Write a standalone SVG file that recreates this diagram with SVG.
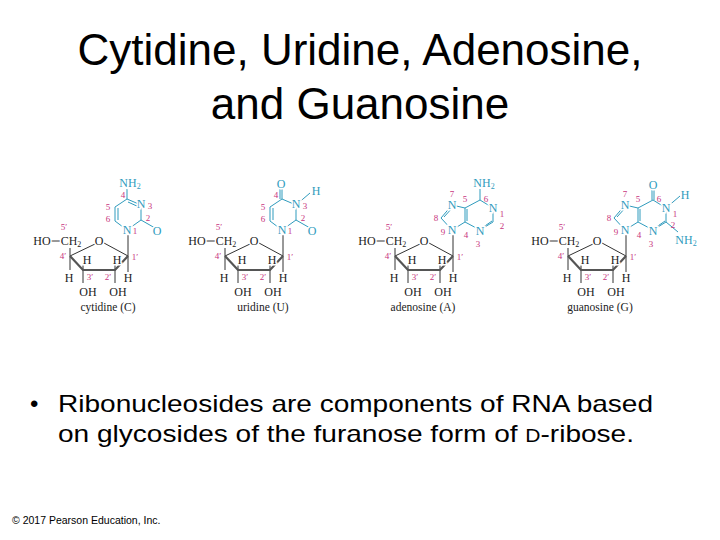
<svg xmlns="http://www.w3.org/2000/svg" xmlns:xlink="http://www.w3.org/1999/xlink" width="720" height="540" viewBox="0 0 720 540">
<style>
.t{font-family:"Liberation Sans",Arial,sans-serif;fill:#000}
.a{font-family:"Liberation Serif",serif;font-size:12px;fill:#222;stroke:#fff;stroke-width:3;paint-order:stroke;text-anchor:middle}
.b{font-family:"Liberation Serif",serif;font-size:12px;fill:#2f9bbd;stroke:#fff;stroke-width:3;paint-order:stroke;text-anchor:middle}
.n{font-family:"Liberation Serif",serif;font-size:9px;fill:#c8347e;text-anchor:middle}
.l{font-family:"Liberation Serif",serif;font-size:11.5px;fill:#222;text-anchor:middle}
.k{stroke:#333;stroke-width:1;fill:none}
.kb{stroke:#555;stroke-width:2.2;fill:none}
.c{stroke:#2f9bbd;stroke-width:1;fill:none}
</style>
<defs>
<g id="ribose">
<path class="k" d="M51 241H60M95 244L70 256M128 256L104 243M70 248V270M83 270V264M83 270V283M115 270V264M115 270V283M128 256V272M128 256V235"/>
<path class="kb" d="M70 256L83 270H115L128 256"/>
<text class="a" x="42" y="245">HO</text>
<text class="a" x="71" y="245">CH<tspan font-size="8" dy="2">2</tspan></text>
<text class="a" x="99" y="245">O</text>
<text class="a" x="87" y="264">H</text>
<text class="a" x="117" y="264">H</text>
<text class="a" x="69" y="282">H</text>
<text class="a" x="128" y="282">H</text>
<text class="a" x="88" y="296">OH</text>
<text class="a" x="118" y="296">OH</text>
<text class="n" x="64" y="230">5′</text>
<text class="n" x="63" y="259">4′</text>
<text class="n" x="90" y="280">3′</text>
<text class="n" x="108" y="280">2′</text>
<text class="n" x="135" y="260">1′</text>
</g>
</defs>
<text class="t" x="360" y="65" font-size="44" text-anchor="middle" textLength="565" lengthAdjust="spacingAndGlyphs">Cytidine, Uridine, Adenosine,</text>
<text class="t" x="360" y="119" font-size="44" text-anchor="middle">and Guanosine</text>

<g id="cytidine">
<use xlink:href="#ribose"/>
<path class="c" d="M127 230L115 221V207L127 199L141 205V220L127 230M118 220V208M128 202L139 207M141 220L155 228M127 199V189"/>
<text class="b" x="127" y="234">N</text>
<text class="b" x="141" y="208">N</text>
<text class="b" x="157" y="235">O</text>
<text class="b" x="130" y="187">NH<tspan font-size="8" dy="2">2</tspan></text>
<text class="n" x="135" y="234">1</text><text class="n" x="150" y="209">3</text><text class="n" x="148" y="221">2</text>
<text class="n" x="123" y="198">4</text><text class="n" x="108" y="210">5</text><text class="n" x="108" y="222">6</text>
<text class="l" x="108" y="311">cytidine (C)</text>
</g>

<g id="uridine" transform="translate(155,0)">
<use xlink:href="#ribose"/>
<path class="c" d="M127 230L115 221V207L127 199L141 205V220L127 230M118 220V208M141 220L155 228M127 199V189M125 199V189M141 205L155 193"/>
<text class="b" x="127" y="234">N</text>
<text class="b" x="141" y="208">N</text>
<text class="b" x="157" y="235">O</text>
<text class="b" x="126" y="188">O</text>
<text class="b" x="161" y="195">H</text>
<text class="n" x="135" y="234">1</text><text class="n" x="150" y="209">3</text><text class="n" x="148" y="221">2</text>
<text class="n" x="121" y="198">4</text><text class="n" x="108" y="210">5</text><text class="n" x="108" y="222">6</text>
<text class="l" x="108" y="311">uridine (U)</text>
</g>

<g id="adenosine" transform="translate(325,0)">
<use xlink:href="#ribose"/>
<path class="c" d="M127 230L116 218L127 205L140 208V222L127 230M119 217L128 207M140 208L155 200L168 208V222L155 230L140 222M142 209V221M167 221L157 228M155 200V189"/>
<text class="b" x="127" y="234">N</text>
<text class="b" x="127" y="209">N</text>
<text class="b" x="168" y="212">N</text>
<text class="b" x="155" y="235">N</text>
<text class="b" x="159" y="187">NH<tspan font-size="8" dy="2">2</tspan></text>
<text class="n" x="127" y="197">7</text><text class="n" x="111" y="221">8</text><text class="n" x="118" y="235">9</text>
<text class="n" x="141" y="238">4</text><text class="n" x="140" y="202">5</text><text class="n" x="161" y="202">6</text>
<text class="n" x="177" y="217">1</text><text class="n" x="177" y="229">2</text><text class="n" x="153" y="247">3</text>
<text class="l" x="98" y="311">adenosine (A)</text>
</g>

<g id="guanosine" transform="translate(498,0)">
<use xlink:href="#ribose"/>
<path class="c" d="M127 230L116 218L127 205L140 208V222L127 230M119 217L128 207M140 208L155 200L168 208V222L155 230L140 222M142 209V221M167 221L157 228M154 200V189M156 200V189M168 208L182 196M168 222L180 232"/>
<text class="b" x="127" y="234">N</text>
<text class="b" x="127" y="209">N</text>
<text class="b" x="168" y="212">N</text>
<text class="b" x="155" y="235">N</text>
<text class="b" x="155" y="189">O</text>
<text class="b" x="187" y="199">H</text>
<text class="b" x="188" y="244">NH<tspan font-size="8" dy="2">2</tspan></text>
<text class="n" x="127" y="197">7</text><text class="n" x="111" y="221">8</text><text class="n" x="118" y="235">9</text>
<text class="n" x="141" y="238">4</text><text class="n" x="140" y="202">5</text><text class="n" x="161" y="202">6</text>
<text class="n" x="177" y="217">1</text><text class="n" x="175" y="228">2</text><text class="n" x="153" y="247">3</text>
<text class="l" x="102" y="311">guanosine (G)</text>
</g>

<text class="t" x="30" y="412" font-size="24">•</text>
<text class="t" x="58" y="412" font-size="24" textLength="595" lengthAdjust="spacingAndGlyphs">Ribonucleosides are components of RNA based</text>
<text class="t" x="58" y="442" font-size="24" textLength="576" lengthAdjust="spacingAndGlyphs">on glycosides of the furanose form of <tspan font-size="18">D</tspan>-ribose.</text>
<text class="t" x="12" y="524" font-size="10.5">© 2017 Pearson Education, Inc.</text>
</svg>
